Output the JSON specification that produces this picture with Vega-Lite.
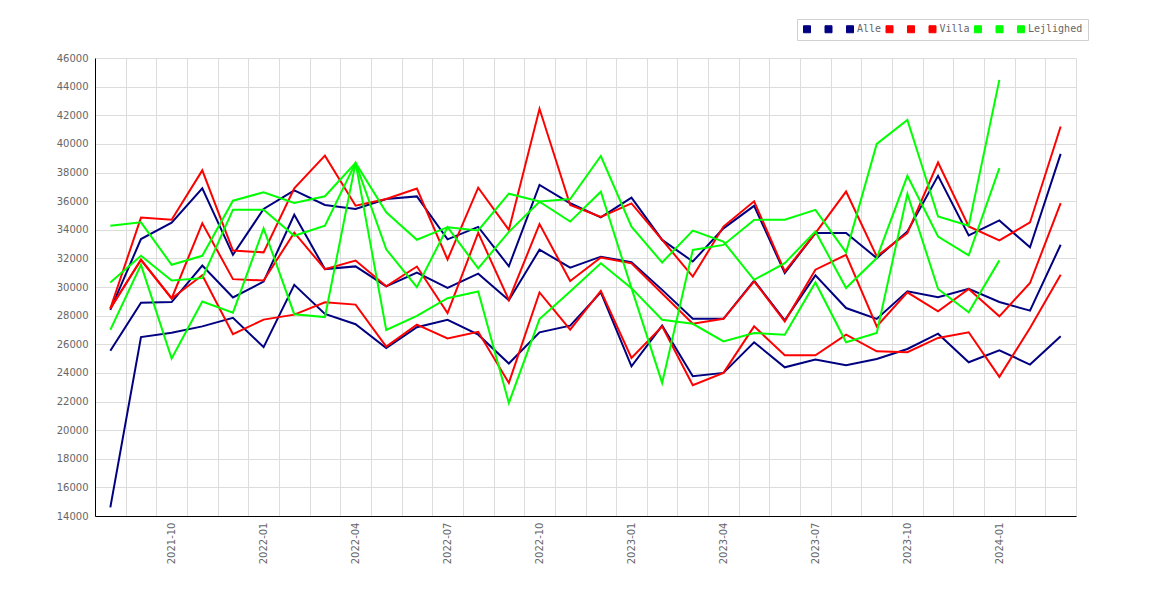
{
  "$schema": "https://vega.github.io/schema/vega-lite/v6.json",
  "width": 981,
  "height": 458,
  "autosize": "none",
  "padding": {"left": 95, "top": 58, "right": 94, "bottom": 84},
  "background": "white",
  "data": {"values": [
    {"m": "2021-08", "Alle1": 28400, "Alle2": 25550, "Alle": 14600, "Villa1": 28500, "Villa2": 28500, "Villa": 28500, "Lejlighed1": 34280, "Lejlighed2": 30320, "Lejlighed": 27000},
    {"m": "2021-09", "Alle1": 33350, "Alle2": 28900, "Alle": 26500, "Villa1": 34850, "Villa2": 31900, "Villa": 31900, "Lejlighed1": 34520, "Lejlighed2": 32180, "Lejlighed": 31550},
    {"m": "2021-10", "Alle1": 34500, "Alle2": 28950, "Alle": 26800, "Villa1": 34700, "Villa2": 29200, "Villa": 29200, "Lejlighed1": 31550, "Lejlighed2": 30450, "Lejlighed": 25000},
    {"m": "2021-11", "Alle1": 36900, "Alle2": 31500, "Alle": 27250, "Villa1": 38150, "Villa2": 34450, "Villa": 30820, "Lejlighed1": 32180, "Lejlighed2": 30620, "Lejlighed": 28990},
    {"m": "2021-12", "Alle1": 32250, "Alle2": 29270, "Alle": 27850, "Villa1": 32550, "Villa2": 30550, "Villa": 26700, "Lejlighed1": 36030, "Lejlighed2": 35400, "Lejlighed": 28210},
    {"m": "2022-01", "Alle1": 35450, "Alle2": 30380, "Alle": 25800, "Villa1": 32420, "Villa2": 30450, "Villa": 27720, "Lejlighed1": 36620, "Lejlighed2": 35400, "Lejlighed": 34090},
    {"m": "2022-02", "Alle1": 36750, "Alle2": 35050, "Alle": 30150, "Villa1": 36900, "Villa2": 33800, "Villa": 28070, "Lejlighed1": 35870, "Lejlighed2": 33580, "Lejlighed": 28100},
    {"m": "2022-03", "Alle1": 35730, "Alle2": 31250, "Alle": 28120, "Villa1": 39180, "Villa2": 31250, "Villa": 28930, "Lejlighed1": 36340, "Lejlighed2": 34280, "Lejlighed": 27900},
    {"m": "2022-04", "Alle1": 35450, "Alle2": 31440, "Alle": 27400, "Villa1": 35680, "Villa2": 31850, "Villa": 28770, "Lejlighed1": 38670, "Lejlighed2": 38670, "Lejlighed": 38670},
    {"m": "2022-05", "Alle1": 36150, "Alle2": 30040, "Alle": 25730, "Villa1": 36150, "Villa2": 30050, "Villa": 25840, "Lejlighed1": 35220, "Lejlighed2": 32630, "Lejlighed": 27000},
    {"m": "2022-06", "Alle1": 36330, "Alle2": 31000, "Alle": 27190, "Villa1": 36880, "Villa2": 31430, "Villa": 27370, "Lejlighed1": 33300, "Lejlighed2": 29990, "Lejlighed": 27980},
    {"m": "2022-07", "Alle1": 33330, "Alle2": 29940, "Alle": 27710, "Villa1": 31920, "Villa2": 28180, "Villa": 26400, "Lejlighed1": 34180, "Lejlighed2": 34180, "Lejlighed": 29220},
    {"m": "2022-08", "Alle1": 34200, "Alle2": 30930, "Alle": 26670, "Villa1": 36940, "Villa2": 33780, "Villa": 26870, "Lejlighed1": 33950, "Lejlighed2": 31300, "Lejlighed": 29690},
    {"m": "2022-09", "Alle1": 31450, "Alle2": 29080, "Alle": 24650, "Villa1": 33990, "Villa2": 29100, "Villa": 23300, "Lejlighed1": 36520, "Lejlighed2": 33850, "Lejlighed": 21900},
    {"m": "2022-10", "Alle1": 37130, "Alle2": 32610, "Alle": 26830, "Villa1": 42450, "Villa2": 34400, "Villa": 29620, "Lejlighed1": 35970, "Lejlighed2": 35960, "Lejlighed": 27760},
    {"m": "2022-11", "Alle1": 35850, "Alle2": 31350, "Alle": 27300, "Villa1": 35730, "Villa2": 30420, "Villa": 27020, "Lejlighed1": 36140, "Lejlighed2": 34570, "Lejlighed": 29690},
    {"m": "2022-12", "Alle1": 34860, "Alle2": 32120, "Alle": 29620, "Villa1": 34890, "Villa2": 32060, "Villa": 29730, "Lejlighed1": 39150, "Lejlighed2": 36660, "Lejlighed": 31660},
    {"m": "2023-01", "Alle1": 36240, "Alle2": 31730, "Alle": 24460, "Villa1": 35840, "Villa2": 31650, "Villa": 25040, "Lejlighed1": 34220, "Lejlighed2": 29920, "Lejlighed": 29920},
    {"m": "2023-02", "Alle1": 33290, "Alle2": 29800, "Alle": 27300, "Villa1": 33290, "Villa2": 29550, "Villa": 27250, "Lejlighed1": 31710, "Lejlighed2": 23300, "Lejlighed": 27710},
    {"m": "2023-03", "Alle1": 31780, "Alle2": 27780, "Alle": 23770, "Villa1": 30730, "Villa2": 27430, "Villa": 23140, "Lejlighed1": 33940, "Lejlighed2": 32590, "Lejlighed": 27430},
    {"m": "2023-04", "Alle1": 34100, "Alle2": 27780, "Alle": 24000, "Villa1": 34220, "Villa2": 27780, "Villa": 24000, "Lejlighed1": 33170, "Lejlighed2": 32940, "Lejlighed": 26200},
    {"m": "2023-05", "Alle1": 35670, "Alle2": 30450, "Alle": 26140, "Villa1": 35990, "Villa2": 30400, "Villa": 27250, "Lejlighed1": 30500, "Lejlighed2": 34690, "Lejlighed": 26780},
    {"m": "2023-06", "Alle1": 30980, "Alle2": 27670, "Alle": 24390, "Villa1": 31090, "Villa2": 27600, "Villa": 25230, "Lejlighed1": 31670, "Lejlighed2": 34700, "Lejlighed": 26670},
    {"m": "2023-07", "Alle1": 33770, "Alle2": 30810, "Alle": 24930, "Villa1": 33770, "Villa2": 31210, "Villa": 25230, "Lejlighed1": 33880, "Lejlighed2": 35390, "Lejlighed": 30320},
    {"m": "2023-08", "Alle1": 33770, "Alle2": 28530, "Alle": 24530, "Villa1": 36670, "Villa2": 32250, "Villa": 26670, "Lejlighed1": 29930, "Lejlighed2": 32420, "Lejlighed": 26140},
    {"m": "2023-09", "Alle1": 32020, "Alle2": 27770, "Alle": 24970, "Villa1": 32140, "Villa2": 27250, "Villa": 25510, "Lejlighed1": 32020, "Lejlighed2": 40000, "Lejlighed": 26790},
    {"m": "2023-10", "Alle1": 33880, "Alle2": 29700, "Alle": 25670, "Villa1": 33770, "Villa2": 29630, "Villa": 25440, "Lejlighed1": 37770, "Lejlighed2": 41670, "Lejlighed": 36510},
    {"m": "2023-11", "Alle1": 37770, "Alle2": 29280, "Alle": 26740, "Villa1": 38700, "Villa2": 28300, "Villa": 26440, "Lejlighed1": 33530, "Lejlighed2": 34930, "Lejlighed": 29860},
    {"m": "2023-12", "Alle1": 33600, "Alle2": 29880, "Alle": 24740, "Villa1": 34230, "Villa2": 29860, "Villa": 26840, "Lejlighed1": 32210, "Lejlighed2": 34280, "Lejlighed": 28230},
    {"m": "2024-01", "Alle1": 34650, "Alle2": 28950, "Alle": 25580, "Villa1": 33250, "Villa2": 27950, "Villa": 23720, "Lejlighed1": 38300, "Lejlighed2": 44470, "Lejlighed": 31860},
    {"m": "2024-02", "Alle1": 32770, "Alle2": 28350, "Alle": 24580, "Villa1": 34510, "Villa2": 30280, "Villa": 27140, "Lejlighed1": null, "Lejlighed2": null, "Lejlighed": null},
    {"m": "2024-03", "Alle1": 39300, "Alle2": 32950, "Alle": 26560, "Villa1": 41210, "Villa2": 35860, "Villa": 30860, "Lejlighed1": null, "Lejlighed2": null, "Lejlighed": null}
  ]},
  "transform": [
    {"fold": ["Alle1", "Alle2", "Alle", "Villa1", "Villa2", "Villa", "Lejlighed1", "Lejlighed2", "Lejlighed"], "as": ["serie", "v"]},
    {"filter": "datum.v != null"}
  ],
  "mark": {"type": "line", "strokeWidth": 2},
  "encoding": {
    "x": {
      "field": "m",
      "type": "ordinal",
      "bandPosition": 0.5,
      "scale": {"type": "band", "paddingInner": 0, "paddingOuter": 0},
      "axis": {
        "title": null,
        "tickBand": "extent",
        "ticks": false,
        "grid": true,
        "gridColor": "#dcdcdc",
        "domainColor": "#000000",
        "labelAngle": -90,
        "labelAlign": "right",
        "labelBaseline": "middle",
        "labelOverlap": false,
        "labelPadding": 6,
        "labelFont": "DejaVu Sans",
        "labelFontSize": 10,
        "labelColor": "#666666",
        "labelExpr": "indexof(['01','04','07','10'], substring(datum.label, 5, 7)) >= 0 ? datum.label : ''"
      }
    },
    "y": {
      "field": "v",
      "type": "quantitative",
      "scale": {"domain": [14000, 46000], "nice": false, "zero": false},
      "axis": {
        "title": null,
        "values": [14000, 16000, 18000, 20000, 22000, 24000, 26000, 28000, 30000, 32000, 34000, 36000, 38000, 40000, 42000, 44000, 46000],
        "format": "d",
        "ticks": false,
        "grid": true,
        "gridColor": "#dcdcdc",
        "domainColor": "#000000",
        "labelPadding": 7,
        "labelFont": "DejaVu Sans",
        "labelFontSize": 10,
        "labelColor": "#666666"
      }
    },
    "color": {
      "field": "serie",
      "type": "nominal",
      "scale": {
        "domain": ["Alle1", "Alle2", "Alle", "Villa1", "Villa2", "Villa", "Lejlighed1", "Lejlighed2", "Lejlighed"],
        "range": ["#000080", "#000080", "#000080", "#ff0000", "#ff0000", "#ff0000", "#00ff00", "#00ff00", "#00ff00"]
      },
      "legend": {
        "orient": "none",
        "legendX": 702,
        "legendY": -39,
        "direction": "horizontal",
        "title": null,
        "symbolType": "square",
        "symbolSize": 49,
        "symbolStrokeWidth": 1,
        "labelFont": "DejaVu Sans Mono",
        "labelFontSize": 10,
        "labelColor": "#666666",
        "labelOffset": 2,
        "columnPadding": 1.5,
        "padding": 5,
        "strokeColor": "#d0d0d0",
        "fillColor": "#ffffff",
        "labelExpr": "indexof(['Alle','Villa','Lejlighed'], datum.label) >= 0 ? datum.label : 'x'",
        "encode": {
          "symbols": {
            "update": {
              "fill": {"scale": "color", "field": "value"},
              "stroke": {"value": "#555555"},
              "opacity": {"value": 1}
            }
          },
          "labels": {
            "update": {
              "opacity": {"signal": "indexof(['Alle','Villa','Lejlighed'], datum.value) >= 0 ? 1 : 0"}
            }
          }
        }
      }
    }
  },
  "config": {"view": {"stroke": null}}
}
